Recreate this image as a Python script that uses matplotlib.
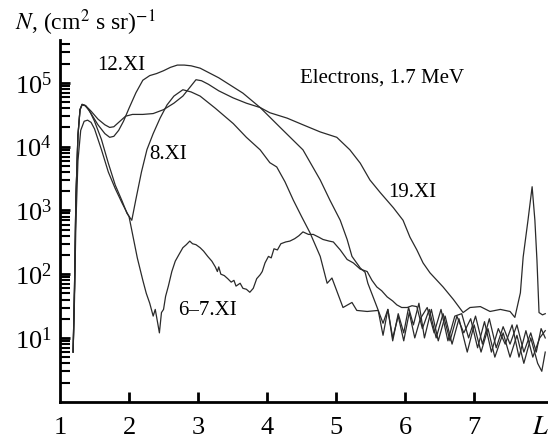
import numpy as np
import matplotlib
matplotlib.use("Agg")
import matplotlib.pyplot as plt

# Electron flux profiles N(L), 1.7 MeV, several days in November
L_67 = [1.19, 1.21, 1.23, 1.26, 1.30, 1.35, 1.40, 1.45, 1.50, 1.60, 1.70, 1.80, 1.90, 2.00,
        2.06, 2.12, 2.20, 2.25, 2.30, 2.35, 2.38, 2.42, 2.44, 2.47, 2.50, 2.53, 2.57, 2.62,
        2.67, 2.72, 2.78, 2.83, 2.88, 2.92, 2.97, 3.03, 3.08, 3.14, 3.20, 3.25, 3.28, 3.30,
        3.33, 3.38, 3.43, 3.48, 3.52, 3.55, 3.61, 3.65, 3.70, 3.75, 3.80, 3.85, 3.90, 3.93,
        3.97, 4.02, 4.06, 4.10, 4.15, 4.20, 4.27, 4.33, 4.40, 4.46, 4.52, 4.60, 4.67, 4.75,
        4.81, 4.90, 4.96, 5.06, 5.16, 5.25, 5.35, 5.45, 5.52, 5.59, 5.66, 5.74, 5.82, 5.88,
        5.95, 6.03, 6.10, 6.17, 6.25, 6.35, 6.45, 6.55, 6.65, 6.75, 6.85, 6.95, 7.05, 7.15,
        7.25, 7.35, 7.45, 7.55, 7.65, 7.75, 7.85, 7.95, 8.03]
N_67 = [6, 40, 600, 6000, 18000, 25000, 26000, 24000, 19000, 9000, 4000, 2200, 1300, 800,
        380, 180, 80, 50, 35, 22, 28, 16, 12, 25, 28, 45, 65, 110,
        160, 200, 260, 290, 330, 300, 290, 260, 230, 190, 160, 130, 110, 130,
        100, 95, 85, 75, 80, 65, 72, 60, 58, 52, 60, 85, 98, 110,
        150, 190, 180, 250, 240, 300, 320, 330, 360, 400, 460, 420, 420, 380,
        350, 330, 320, 240, 170, 150, 120, 110, 80, 63, 55, 44, 38, 33,
        30, 30, 32, 31, 14, 28, 10, 24, 9, 22, 12, 20, 7, 18,
        6, 14, 8, 16, 5, 13, 5, 10, 13]

L_8 = [1.19, 1.21, 1.23, 1.26, 1.29, 1.32, 1.36, 1.42, 1.50, 1.60, 1.70, 1.80, 1.90, 1.97,
       2.04, 2.10, 2.18, 2.26, 2.35, 2.45, 2.55, 2.65, 2.78, 2.90, 3.03, 3.25, 3.51, 3.70,
       3.90, 4.04, 4.14, 4.26, 4.38, 4.50, 4.62, 4.77, 4.87, 4.94, 5.10, 5.23, 5.30, 5.45,
       5.61, 5.68, 5.75, 5.82, 5.90, 5.98, 6.05, 6.12, 6.20, 6.28, 6.38, 6.48, 6.58, 6.68,
       6.78, 6.90, 7.00, 7.10, 7.20, 7.30, 7.42, 7.52, 7.62, 7.72, 7.82, 7.92, 7.98, 8.03]
N_8 = [6, 60, 1500, 15000, 38000, 45000, 44000, 38000, 25000, 13000, 5500, 2500, 1400, 900,
       700, 1500, 4000, 9000, 16000, 28000, 45000, 62000, 78000, 72000, 62000, 40000, 23000, 14000,
       8900, 5600, 4800, 2800, 1450, 800, 450, 190, 72, 87, 30, 36, 27, 26,
       27, 11, 28, 9, 24, 12, 30, 16, 35, 10, 28, 9, 22, 8,
       20, 6, 16, 6, 14, 5, 12, 5, 11, 4, 10, 4, 3, 6]

L_12 = [1.19, 1.21, 1.23, 1.26, 1.29, 1.32, 1.37, 1.45, 1.55, 1.65, 1.72, 1.78, 1.85, 1.92,
        2.00, 2.10, 2.20, 2.30, 2.40, 2.50, 2.60, 2.70, 2.80, 2.90, 3.03, 3.30, 3.65, 3.90,
        4.19, 4.52, 4.77, 4.91, 5.06, 5.16, 5.23, 5.35, 5.42, 5.46, 5.59, 5.68, 5.75, 5.82,
        5.90, 5.98, 6.06, 6.14, 6.22, 6.32, 6.42, 6.52, 6.62, 6.72, 6.82, 6.92, 7.02, 7.12,
        7.22, 7.32, 7.42, 7.52, 7.62, 7.72, 7.82, 7.90, 7.97, 8.03]
N_12 = [6, 60, 1500, 15000, 38000, 46000, 44000, 33000, 22000, 16000, 14000, 14500, 18000, 25000,
        40000, 70000, 110000, 130000, 140000, 155000, 175000, 190000, 190000, 185000, 170000, 120000, 69000, 41000,
        20000, 8900, 3000, 1450, 700, 350, 190, 125, 107, 72, 31, 17, 28, 10,
        22, 9, 25, 10, 20, 30, 12, 28, 9, 22, 24, 10, 22, 8,
        20, 7, 15, 8, 16, 6, 12, 6, 14, 10]

L_19 = [1.19, 1.21, 1.23, 1.26, 1.29, 1.32, 1.37, 1.45, 1.55, 1.65, 1.72, 1.78, 1.85, 1.95,
        2.05, 2.20, 2.35, 2.50, 2.65, 2.78, 2.90, 2.97, 3.05, 3.15, 3.30, 3.51, 3.70, 3.90,
        4.04, 4.29, 4.52, 4.77, 5.01, 5.20, 5.35, 5.49, 5.64, 5.83, 5.97, 6.07, 6.17, 6.26,
        6.36, 6.55, 6.70, 6.84, 6.94, 7.09, 7.23, 7.38, 7.52, 7.59, 7.67, 7.71, 7.78, 7.84,
        7.88, 7.91, 7.94, 7.99, 8.03]
N_19 = [6, 60, 1500, 15000, 38000, 46000, 44000, 36000, 27000, 22000, 20000, 20500, 24000, 30000,
        32000, 32000, 33000, 38000, 48000, 62000, 90000, 112000, 108000, 95000, 75000, 58000, 48000, 41000,
        34000, 28000, 22000, 17000, 14000, 8900, 5500, 3000, 1900, 1100, 700, 380, 240, 150,
        105, 63, 40, 25, 30, 31, 26, 28, 26, 21, 51, 185, 700, 2350,
        700, 165, 25, 23, 24]

series = [(L_67, N_67), (L_8, N_8), (L_12, N_12), (L_19, N_19)]

plt.rcParams['font.family'] = ['Liberation Serif', 'DejaVu Serif']
plt.rcParams['mathtext.fontset'] = 'stix'

fig = plt.figure(figsize=(5.48, 4.4), dpi=100)
ax = fig.add_axes([60 / 548, 38.3 / 440, 488 / 548, 361.7 / 440])

for xs, ys in series:
    ax.plot(xs, ys, color='#2a2a2a', lw=0.9)

ax.set_yscale('log')
ax.set_xlim(1, 8.07)
ax.set_ylim(1, 4.7e5)

for s in ['top', 'right']:
    ax.spines[s].set_visible(False)
for s in ['left', 'bottom']:
    ax.spines[s].set_linewidth(2.0)

ax.set_yticks([1e1, 1e2, 1e3, 1e4, 1e5])
ax.yaxis.set_minor_locator(matplotlib.ticker.LogLocator(base=10, subs=np.arange(2, 10), numticks=20))
ax.yaxis.set_minor_formatter(matplotlib.ticker.NullFormatter())
ax.set_xticks([1, 2, 3, 4, 5, 6, 7, 7.96])
ax.set_xticklabels(['1', '2', '3', '4', '5', '6', '7', '$L$'])
ax.xaxis.get_major_ticks()[0].tick1line.set_visible(False)
ax.xaxis.get_major_ticks()[-1].tick1line.set_visible(False)

ax.tick_params(axis='both', which='major', direction='in', length=7, width=2, labelsize=19)
ax.tick_params(axis='y', which='minor', direction='in', length=7, width=1.5)
ax.tick_params(axis='x', which='major', pad=11)
ax.tick_params(axis='y', which='major', pad=6)

ax.text(1.88, 1.9e5, '12.XI', fontsize=15, ha='center', va='center')
ax.text(2.57, 7400, '8.XI', fontsize=15, ha='center', va='center')
ax.text(6.1, 1900, '19.XI', fontsize=15, ha='center', va='center')
ax.text(3.14, 27, '6\u20137.XI', fontsize=15, ha='center', va='center')
ax.text(5.67, 1.2e5, 'Electrons, 1.7 MeV', fontsize=15, ha='center', va='center')

fig.text(15 / 548, 1 - 23 / 440, r'$N$, (cm$^2$ s sr)$^{-1}$', fontsize=17, ha='left', va='center')

fig.savefig('out.png', dpi=100)
